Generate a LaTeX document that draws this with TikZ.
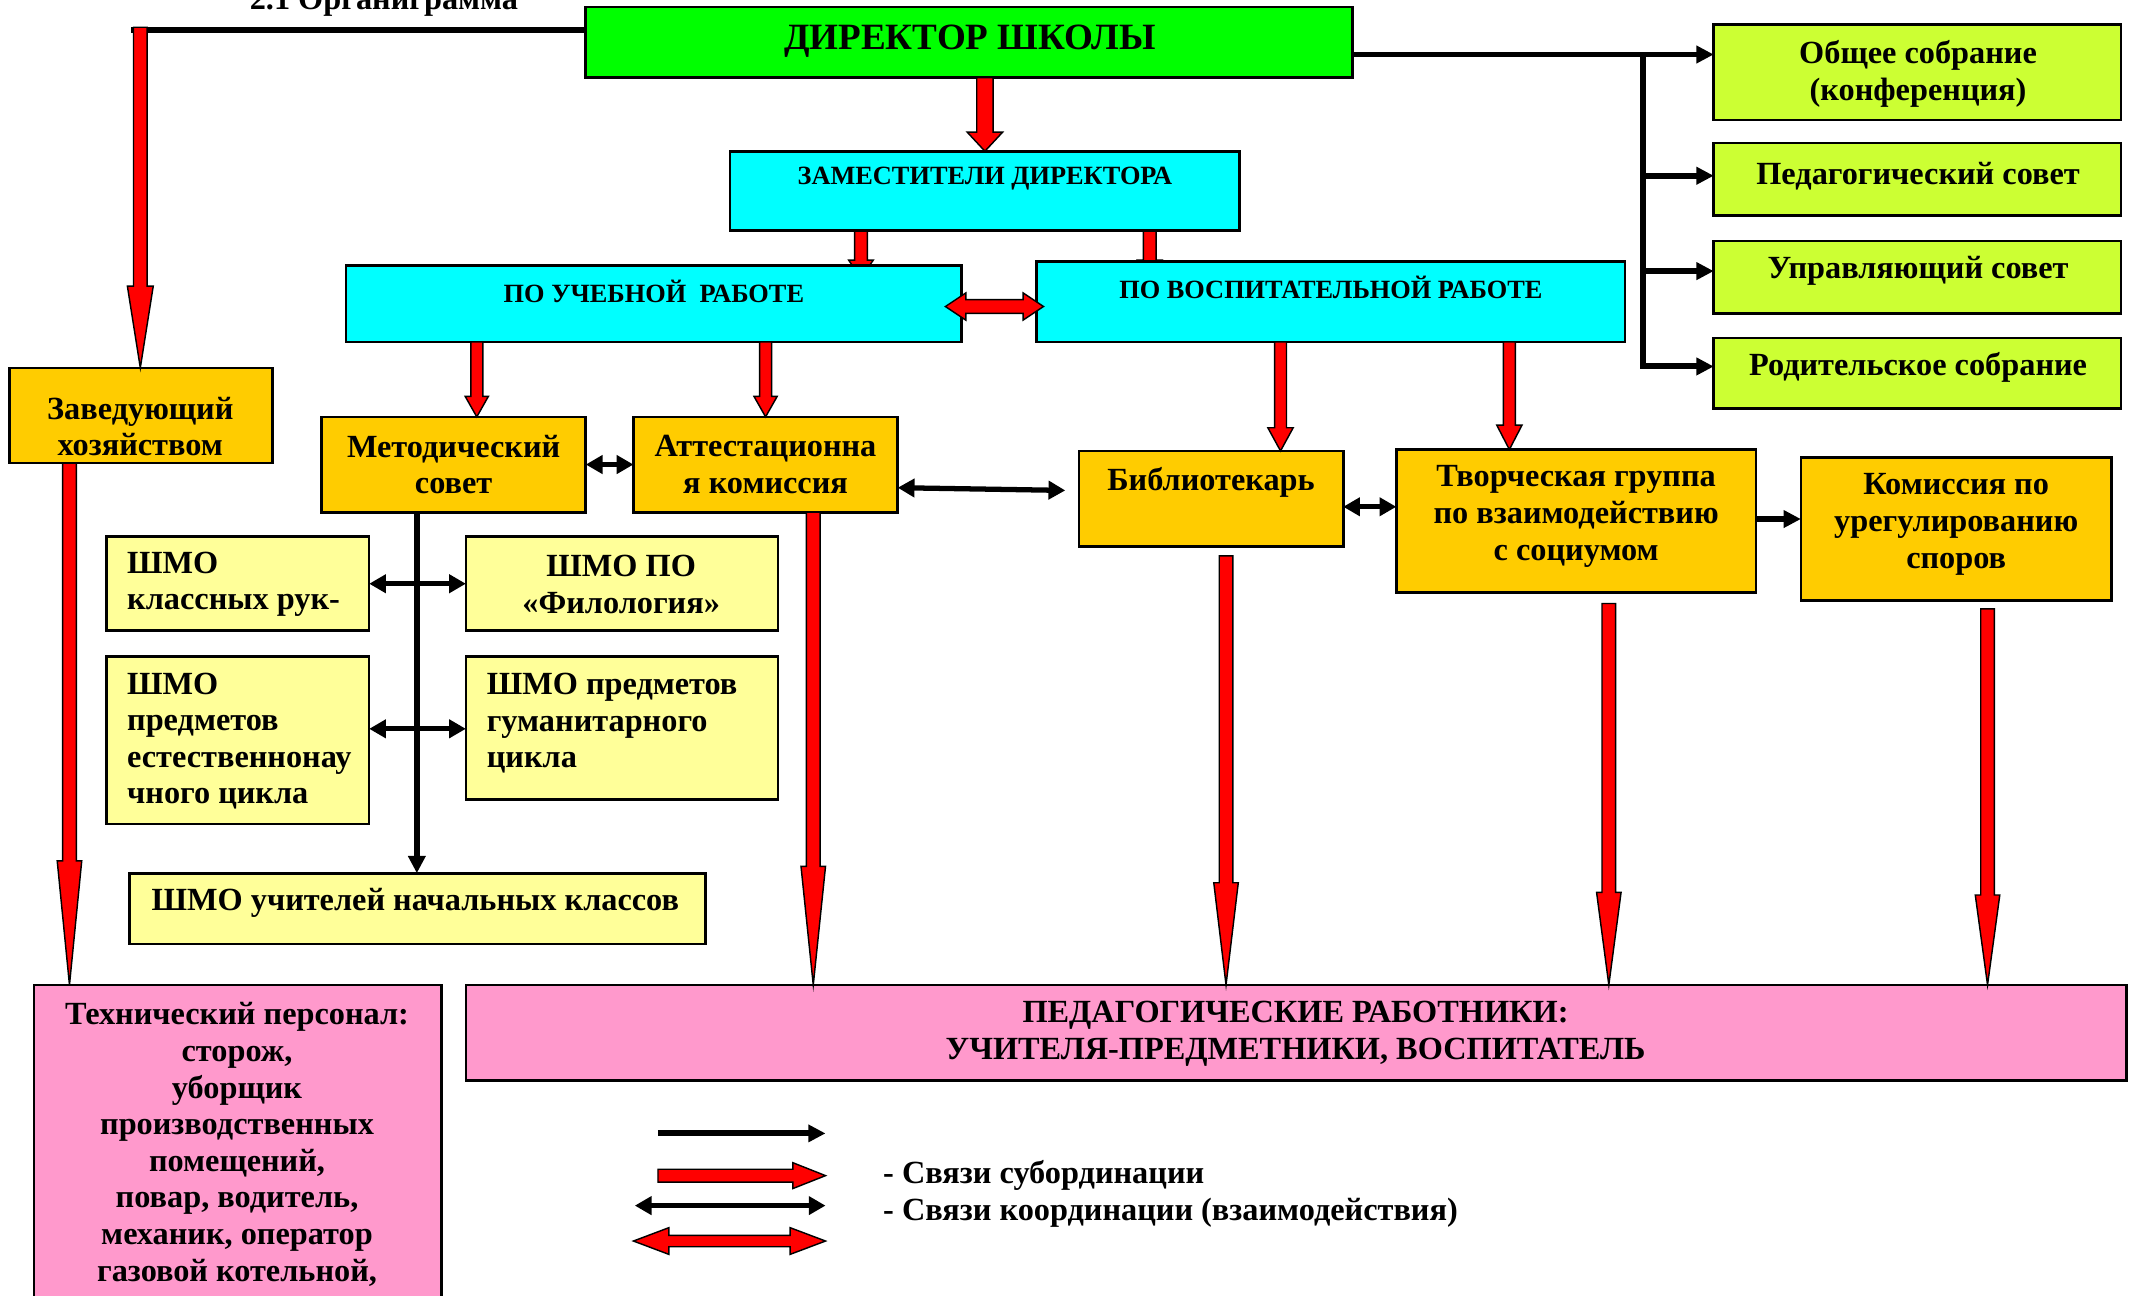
\documentclass[tikz,border=0pt]{standalone}
\usepackage{fontspec}
\setmainfont{Liberation Serif}
\usetikzlibrary{calc,arrows.meta,backgrounds}
\definecolor{cgreen}{HTML}{00FF00}
\definecolor{ccyan}{HTML}{00FFFF}
\definecolor{corange}{HTML}{FFCC00}
\definecolor{clime}{HTML}{CCFF33}
\definecolor{cyel}{HTML}{FFFF99}
\definecolor{cpink}{HTML}{FF99CC}
\newcommand\myu{0.02cm}
\newcommand\mkbox[6]{\node[box,#2,anchor=north west,minimum width={(#5-#3)*0.02cm},minimum height={(#6-#4)*0.02cm}] (#1) at (#3,#4) {};}
\begin{document}
\begin{tikzpicture}[x=0.02cm,y=-0.02cm,
 box/.style={draw=black,line width=1.1pt,inner sep=0pt,outer sep=0pt},
 t/.style={font=\bfseries\fontsize{13.5}{15.3}\selectfont,inner sep=0pt,align=center},
 ts/.style={font=\bfseries\fontsize{11}{13}\selectfont,inner sep=0pt,align=center},
 blk/.style={line width=2.5pt,-{Triangle[length=7.2pt,width=7pt]}},
 blkl/.style={line width=2.2pt},
 blk2/.style={line width=2.2pt,{Triangle[length=7pt,width=7.5pt]}-{Triangle[length=7pt,width=7.5pt]}},
 rsw/.store in=\rsw, rhw/.store in=\rhw, rhl/.store in=\rhl,
 rsw=5, rhw=9, rhl=20,
 redarr/.style={draw=black,fill=red,line width=0.6pt,line join=miter,to path={
   let \p1=(\tikztostart), \p2=(\tikztotarget), \n1={atan2(\y2-\y1,\x2-\x1)} in
   ($(\p1)+(\n1+90:\rsw*\myu)$)
   -- ($(\p2)+(\n1+180:\rhl*\myu)+(\n1+90:\rsw*\myu)$)
   -- ($(\p2)+(\n1+180:\rhl*\myu)+(\n1+90:\rhw*\myu)$)
   -- (\p2)
   -- ($(\p2)+(\n1+180:\rhl*\myu)+(\n1-90:\rhw*\myu)$)
   -- ($(\p2)+(\n1+180:\rhl*\myu)+(\n1-90:\rsw*\myu)$)
   -- ($(\p1)+(\n1-90:\rsw*\myu)$) -- cycle}},
 redarr2/.style={draw=black,fill=red,line width=0.6pt,line join=miter,to path={
   let \p1=(\tikztostart), \p2=(\tikztotarget), \n1={atan2(\y2-\y1,\x2-\x1)} in
   (\p1)
   -- ($(\p1)+(\n1:\rhl*\myu)+(\n1+90:\rhw*\myu)$)
   -- ($(\p1)+(\n1:\rhl*\myu)+(\n1+90:\rsw*\myu)$)
   -- ($(\p2)+(\n1+180:\rhl*\myu)+(\n1+90:\rsw*\myu)$)
   -- ($(\p2)+(\n1+180:\rhl*\myu)+(\n1+90:\rhw*\myu)$)
   -- (\p2)
   -- ($(\p2)+(\n1+180:\rhl*\myu)+(\n1-90:\rhw*\myu)$)
   -- ($(\p2)+(\n1+180:\rhl*\myu)+(\n1-90:\rsw*\myu)$)
   -- ($(\p1)+(\n1:\rhl*\myu)+(\n1-90:\rsw*\myu)$)
   -- ($(\p1)+(\n1:\rhl*\myu)+(\n1-90:\rhw*\myu)$) -- cycle}}]
\begin{pgfonlayer}{background}
\fill[white] (0,0) rectangle (1568,951);
\end{pgfonlayer}
\useasboundingbox (0,0) rectangle (1568,951);

\node[t,anchor=base west] (title) at (183,7) {2.1 Органиграмма};

% boxes
\mkbox{dir}{fill=cgreen}{430}{5}{993}{57}
\mkbox{zam}{fill=ccyan}{536}{111}{910}{169}
\mkbox{ucheb}{fill=ccyan}{254}{195}{706}{251}
\mkbox{vosp}{fill=ccyan}{761}{192}{1193}{251}
\mkbox{zav}{fill=corange}{7}{270}{200}{340}
\mkbox{metod}{fill=corange}{236}{306}{430}{376}
\mkbox{att}{fill=corange}{465}{306}{659}{376}
\mkbox{bib}{fill=corange}{792}{331}{986}{401}
\mkbox{tvor}{fill=corange}{1025}{330}{1289}{435}
\mkbox{kom}{fill=corange}{1322}{336}{1550}{441}
\mkbox{obsh}{fill=clime}{1258}{18}{1557}{88}
\mkbox{ped}{fill=clime}{1258}{105}{1557}{158}
\mkbox{upr}{fill=clime}{1258}{177}{1557}{230}
\mkbox{rod}{fill=clime}{1258}{248}{1557}{300}
\mkbox{shA}{fill=cyel}{78}{394}{271}{463}
\mkbox{shB}{fill=cyel}{342}{394}{571}{463}
\mkbox{shC}{fill=cyel}{78}{482}{271}{605}
\mkbox{shD}{fill=cyel}{342}{482}{571}{587}
\mkbox{shE}{fill=cyel}{95}{641}{518}{693}
\mkbox{tech}{fill=cpink}{25}{723}{324}{965}
\mkbox{pedw}{fill=cpink}{342}{723}{1561}{793}

% texts
\node[t,font=\bfseries\fontsize{15.5}{17}\selectfont] (tdir) at (712,30) {ДИРЕКТОР ШКОЛЫ};
\node[ts] (tzam) at (723,131) {ЗАМЕСТИТЕЛИ ДИРЕКТОРА};
\node[ts] (tuch) at (480,214) {ПО УЧЕБНОЙ \ РАБОТЕ};
\node[ts] (tvos) at (977,211) {ПО ВОСПИТАТЕЛЬНОЙ РАБОТЕ};
\node[t] (tzav) at (103,313) {Заведующий\\хозяйством};
\node[t] (tmet) at (333,341) {Методический\\совет};
\node[t] (tatt) at (562,341) {Аттестационна\\я комиссия};
\node[t] (tbib) at (889,354) {Библиотекарь};
\node[t] (ttvo) at (1157,379) {Творческая группа\\по взаимодействию\\с социумом};
\node[t] (tkom) at (1436,385) {Комиссия по\\урегулированию\\споров};
\node[t] (tobs) at (1408,54) {Общее собрание\\(конференция)};
\node[t] (tped) at (1408,129) {Педагогический совет};
\node[t] (tupr) at (1408,199) {Управляющий совет};
\node[t] (trod) at (1408,270) {Родительское собрание};
\node[t,align=left,anchor=west] (tshA) at (93,429) {ШМО\\классных рук-};
\node[t] (tshB) at (456,429) {ШМО ПО\\«Филология»};
\node[t,align=left,anchor=west] (tshC) at (93,544) {ШМО\\предметов\\естественнонау\\чного цикла};
\node[t,align=left,anchor=west] (tshD) at (357,531) {ШМО предметов\\гуманитарного\\цикла};
\node[t,anchor=west] (tshE) at (111,663) {ШМО учителей начальных классов};
\node[t] (ttech) at (174,840) {Технический персонал:\\сторож,\\уборщик\\производственных\\помещений,\\повар, водитель,\\механик, оператор\\газовой котельной,};
\node[t] (tpedw) at (951,759) {ПЕДАГОГИЧЕСКИЕ РАБОТНИКИ:\\УЧИТЕЛЯ-ПРЕДМЕТНИКИ, ВОСПИТАТЕЛЬ};

% connectors
\coordinate (lc) at (96,22);
\draw[blkl] (dir.west |- lc) -- (lc);
\coordinate (zc) at (103,20);
\draw[redarr,rsw=5,rhw=9.5,rhl=60] (zc) to (zav.north -| zc);
\draw[redarr,rsw=6,rhw=13,rhl=14] (dir.south -| zam.north) to (zam.north);
\begin{pgfonlayer}{background}
\draw[redarr,rsw=4.7,rhw=9,rhl=13] (zam.south -| 632,0) to ($(ucheb.north -| 632,0)+(0,9)$);
\draw[redarr,rsw=4.7,rhw=9,rhl=13] (zam.south -| 844,0) to ($(vosp.north -| 844,0)+(0,12)$);
\end{pgfonlayer}
\draw[redarr2,rsw=5,rhw=10,rhl=15] ($(ucheb.east)+(-12,2)$) to ($(vosp.west)+(5,3.5)$);
\draw[redarr,rsw=4.4,rhw=8.5,rhl=15] (ucheb.south -| 350,0) to (metod.north -| 350,0);
\draw[redarr,rsw=4.4,rhw=8.5,rhl=15] (ucheb.south -| att.north) to (att.north);
\draw[redarr,rsw=4.4,rhw=9.3,rhl=17] (vosp.south -| 940,0) to (bib.north -| 940,0);
\draw[redarr,rsw=4.4,rhw=9.3,rhl=18] (vosp.south -| 1108,0) to (tvor.north -| 1108,0);

\draw[blk2] (metod.east) -- (att.west);
\draw[blk2] ($(att.east)+(0,17)$) -- ($(bib.west)+(-10,-6)$);
\draw[blk2] (bib.east |- 0,372) -- (tvor.west |- 0,372);
\draw[blk] (tvor.east |- 0,381) -- (kom.west |- 0,381);

\coordinate (vj) at (1206,40);
\draw[blk] (dir.east |- vj) -- (obsh.west |- vj);
\draw[blk] (vj) |- (rod.west |- 0,269);
\draw[blk] (vj |- 0,129) -- (ped.west |- 0,129);
\draw[blk] (vj |- 0,199) -- (upr.west |- 0,199);

\draw[blk] (metod.south -| 306,0) -- (shE.north -| 306,0);
\draw[blk2] (shA.east) -- (shB.west);
\draw[blk2] (shC.east |- 0,535) -- (shD.west |- 0,535);

\draw[redarr,rsw=5,rhw=9,rhl=91] (zav.south -| 51,0) to (tech.north -| 51,0);
\draw[redarr,rsw=5,rhw=9,rhl=87] (att.south -| 597,0) to (pedw.north -| 597,0);
\draw[redarr,rsw=5,rhw=9,rhl=75] ($(bib.south -| 900,0)+(0,7)$) to (pedw.north -| 900,0);
\draw[redarr,rsw=5,rhw=9,rhl=68] ($(tvor.south -| 1181,0)+(0,8)$) to (pedw.north -| 1181,0);
\draw[redarr,rsw=5,rhw=9,rhl=66] ($(kom.south -| 1459,0)+(0,6)$) to (pedw.north -| 1459,0);

% legend
\coordinate (la1) at (483,832); \coordinate (lb1) at (606,832);
\draw[blk] (la1) -- (lb1);
\coordinate (la2) at (483,863); \coordinate (lb2) at (606,863);
\draw[redarr,rsw=4.7,rhw=9.5,rhl=24] (la2) to (lb2);
\coordinate (la3) at (466,885); \coordinate (lb3) at (606,885);
\draw[blk2] (la3) -- (lb3);
\coordinate (la4) at (465,911); \coordinate (lb4) at (606,911);
\draw[redarr2,rsw=4.2,rhw=9.8,rhl=26] (la4) to (lb4);
\node[t,anchor=west] (lg1) at (648,863) {- Связи субординации};
\node[t,anchor=west] (lg2) at (648,890) {- Связи координации (взаимодействия)};
\end{tikzpicture}
\end{document}
